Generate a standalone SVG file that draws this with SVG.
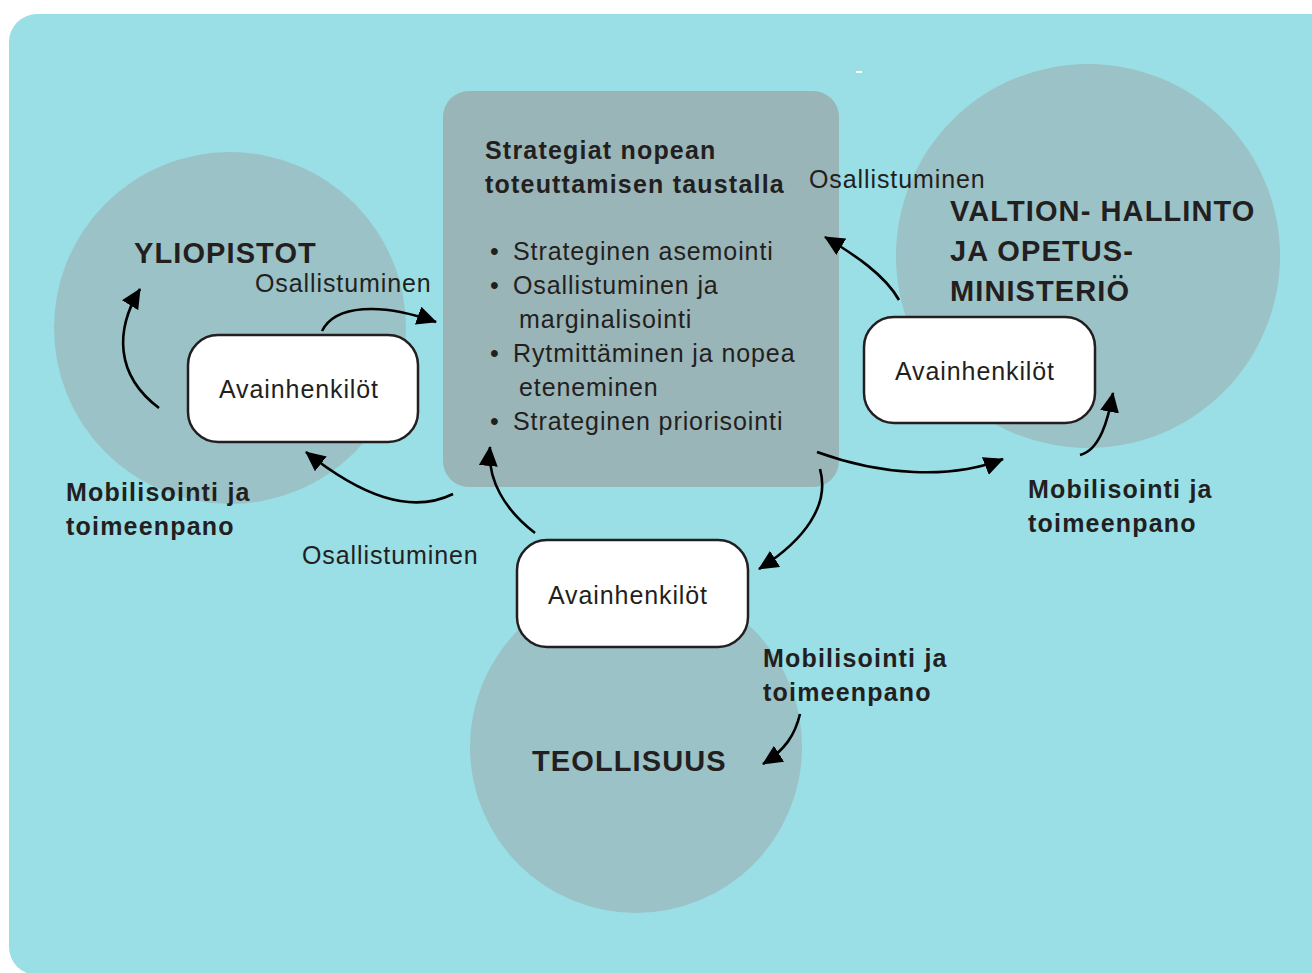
<svg xmlns="http://www.w3.org/2000/svg" width="1312" height="973" viewBox="0 0 1312 973">
<defs>
<style>
.t{font-family:"Liberation Sans",Arial,sans-serif;fill:#231f20;font-size:25px;letter-spacing:0.9px}
.b{font-weight:bold;letter-spacing:1.2px}
.h{font-weight:bold;font-size:29px;letter-spacing:1.1px}
.circ{fill:#9bc2c6}
.box{fill:#ffffff;stroke:#231f20;stroke-width:2.5}
.c{fill:none;stroke:#000;stroke-width:2.6;marker-end:url(#ah)}
</style>
<marker id="ah" viewBox="0 0 20 19" refX="19" refY="9.5" markerWidth="20" markerHeight="19" markerUnits="userSpaceOnUse" orient="auto">
<path d="M0,0 L20,9.5 L0,19 z" fill="#000"/>
</marker>
</defs>
<rect x="0" y="0" width="1312" height="973" fill="#ffffff"/>
<rect x="9" y="14" width="1340" height="961" rx="28" fill="#9adee6"/>
<rect x="856" y="71" width="6" height="2" fill="#ffffff"/>

<g id="circle-yliopistot"><circle class="circ" cx="230" cy="328" r="176"/>
<text class="t h" x="134" y="263">YLIOPISTOT</text></g>
<g id="circle-valtio"><circle class="circ" cx="1088" cy="256" r="192"/>
<text class="t h" x="950" y="221">VALTION- HALLINTO</text>
<text class="t h" x="950" y="261">JA OPETUS-</text>
<text class="t h" x="950" y="301">MINISTERIÖ</text></g>
<g id="circle-teollisuus"><circle class="circ" cx="636" cy="747" r="166"/>
<text class="t h" x="532" y="771">TEOLLISUUS</text></g>

<g id="strategies">
<rect x="443" y="91" width="396" height="396" rx="26" fill="#9ab5b7"/>
<text class="t b" x="485" y="159">Strategiat nopean</text>
<text class="t b" x="485" y="193">toteuttamisen taustalla</text>
<text class="t" x="490" y="260">•</text><text class="t" x="513" y="260">Strateginen asemointi</text>
<text class="t" x="490" y="294">•</text><text class="t" x="513" y="294">Osallistuminen ja</text>
<text class="t" x="519" y="328">marginalisointi</text>
<text class="t" x="490" y="362">•</text><text class="t" x="513" y="362">Rytmittäminen ja nopea</text>
<text class="t" x="519" y="396">eteneminen</text>
<text class="t" x="490" y="430">•</text><text class="t" x="513" y="430">Strateginen priorisointi</text>
</g>

<g id="key-left"><rect class="box" x="188" y="335" width="230" height="107" rx="30"/>
<text class="t" x="219" y="398">Avainhenkilöt</text></g>
<g id="key-right"><rect class="box" x="864" y="317" width="231" height="106" rx="30"/>
<text class="t" x="895" y="380">Avainhenkilöt</text></g>
<g id="key-bottom"><rect class="box" x="517" y="540" width="231" height="107" rx="30"/>
<text class="t" x="548" y="604">Avainhenkilöt</text></g>

<g id="connectors">
<path class="c" d="M159,408 C115,375 115,330 140,289"/>
<path class="c" d="M322,331 C335,305 380,302 436,322"/>
<path class="c" d="M453,494 C410,515 360,495 306,452"/>
<path class="c" d="M535,533 C505,510 487,480 490,447"/>
<path class="c" d="M820,469 C830,505 805,540 759,569"/>
<path class="c" d="M817,452 C880,475 950,480 1003,459"/>
<path class="c" d="M1080,455 C1100,450 1108,420 1113,393"/>
<path class="c" d="M899,300 C885,275 855,255 825,237"/>
<path class="c" d="M800,714 C795,735 785,750 763,764"/>
</g>

<g id="labels">
<text class="t" x="255" y="292">Osallistuminen</text>
<text class="t" x="302" y="564">Osallistuminen</text>
<text class="t" x="809" y="188">Osallistuminen</text>
<text class="t b" x="66" y="501">Mobilisointi ja</text>
<text class="t b" x="66" y="535">toimeenpano</text>
<text class="t b" x="1028" y="498">Mobilisointi ja</text>
<text class="t b" x="1028" y="532">toimeenpano</text>
<text class="t b" x="763" y="667">Mobilisointi ja</text>
<text class="t b" x="763" y="701">toimeenpano</text>
</g>
</svg>
